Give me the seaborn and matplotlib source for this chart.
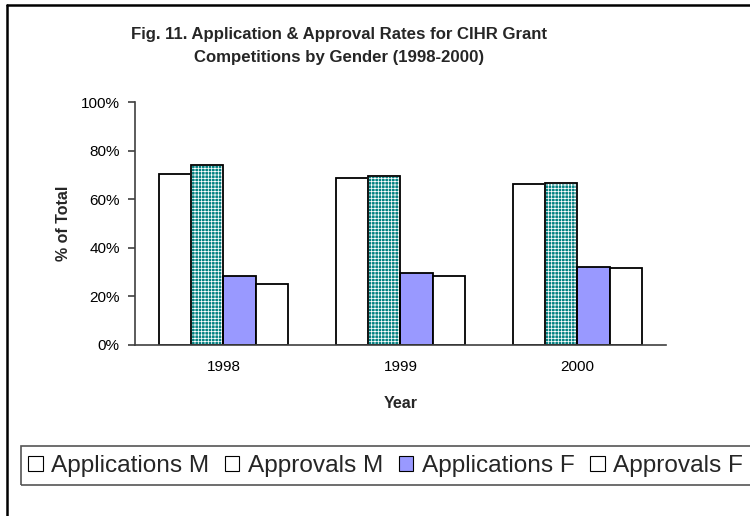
import numpy as np
import pandas as pd
import matplotlib
matplotlib.use("Agg")
import matplotlib.pyplot as plt
import seaborn as sns
from matplotlib.patches import Rectangle, Patch
from matplotlib.lines import Line2D
from matplotlib.ticker import PercentFormatter, FixedLocator

# ---- data ----
years = ["1998", "1999", "2000"]
series = ["Applications M", "Approvals M", "Applications F", "Approvals F"]
applications_m = [70.4, 68.7, 66.1]
approvals_m = [74.2, 69.4, 66.5]
applications_f = [28.4, 29.5, 32.1]
approvals_f = [25.2, 28.4, 31.6]

df = pd.DataFrame({
    "Year": years * 4,
    "Series": np.repeat(series, len(years)),
    "Value": applications_m + approvals_m + applications_f + approvals_f,
})

sns.set_style("white")
plt.rcParams["font.family"] = ["Liberation Sans", "DejaVu Sans"]
plt.rcParams["hatch.linewidth"] = 0.55

fig = plt.figure(figsize=(7.5, 5.16), dpi=100)
ax = fig.add_axes([135 / 750, (516 - 345) / 516, (666 - 135) / 750, (345 - 102) / 516])

palette = {"Applications M": "white", "Approvals M": "#008080",
           "Applications F": "#9999FF", "Approvals F": "white"}
sns.barplot(data=df, x="Year", y="Value", hue="Series", hue_order=series,
            order=years, palette=palette, width=0.73, gap=0, edgecolor="black",
            linewidth=1.3, saturation=1, errorbar=None, legend=False, ax=ax)

# checkered pattern for Approvals M
for p in ax.containers[1]:
    p.set_hatch("+++++")
    p.set_edgecolor("white")
    ax.add_patch(Rectangle((p.get_x(), p.get_y()), p.get_width(), p.get_height(),
                           fill=False, edgecolor="black", linewidth=1.3, zorder=p.get_zorder() + 0.1))

ax.set_xlim(-0.5, len(years) - 0.5)
ax.set_ylim(0, 100)
ax.set_yticks(np.arange(0, 101, 20))
ax.yaxis.set_major_formatter(PercentFormatter(100, decimals=0))
ax.xaxis.set_minor_locator(FixedLocator(np.arange(-0.5, len(years), 1.0)))
ax.tick_params(axis="x", which="major", length=0, labelsize=11, pad=11, labelcolor="black")
ax.tick_params(axis="x", which="minor", direction="in", length=6, width=1.2, color="#404040")
ax.tick_params(axis="y", direction="out", length=5, width=1.2, color="#404040",
               labelsize=11, pad=6, labelcolor="black", left=True)
sns.despine(ax=ax)
for s in ["left", "bottom"]:
    ax.spines[s].set_color("#404040")
    ax.spines[s].set_linewidth(1.2)

ax.set_xlabel("Year", fontsize=11.5, fontweight="bold")
ax.xaxis.label.set_verticalalignment("center")
ax.xaxis.set_label_coords(0.5, (345 - 403) / 243)
ax.set_ylabel("% of Total", fontsize=11.5, fontweight="bold")
ax.yaxis.label.set_verticalalignment("center")
ax.yaxis.set_label_coords((63 - 135) / 531, 0.5)

fig.text(339 / 750, 1 - 46 / 516,
         "Fig. 11. Application & Approval Rates for CIHR Grant\nCompetitions by Gender (1998-2000)",
         ha="center", va="center", fontsize=12.1, fontweight="bold", linespacing=1.6)

# outer frame (left and top)
fig.add_artist(Line2D([7 / 750, 7 / 750], [0, 1 - 5 / 516], transform=fig.transFigure,
                      color="black", linewidth=1.8))
fig.add_artist(Line2D([7 / 750, 1], [1 - 5 / 516, 1 - 5 / 516], transform=fig.transFigure,
                      color="black", linewidth=1.8))

# legend
handles = [Patch(facecolor="white", edgecolor="black", linewidth=0.8),
           Patch(facecolor="white", edgecolor="black", linewidth=0.8),
           Patch(facecolor="#9999FF", edgecolor="black", linewidth=0.8),
           Patch(facecolor="white", edgecolor="black", linewidth=0.8)]
fig.legend(handles, series, loc="center left", bbox_to_anchor=(28 / 750, 1 - 466 / 516),
           ncol=4, frameon=False, fontsize=17.6, handlelength=0.6, handleheight=0.6,
           handletextpad=0.35, columnspacing=0.63, borderpad=0, borderaxespad=0)
fig.add_artist(Rectangle((21 / 750, 1 - 485 / 516), 1.0, 39 / 516, transform=fig.transFigure,
                         fill=False, edgecolor="#555555", linewidth=1.2))

fig.savefig("out.png", dpi=100)
